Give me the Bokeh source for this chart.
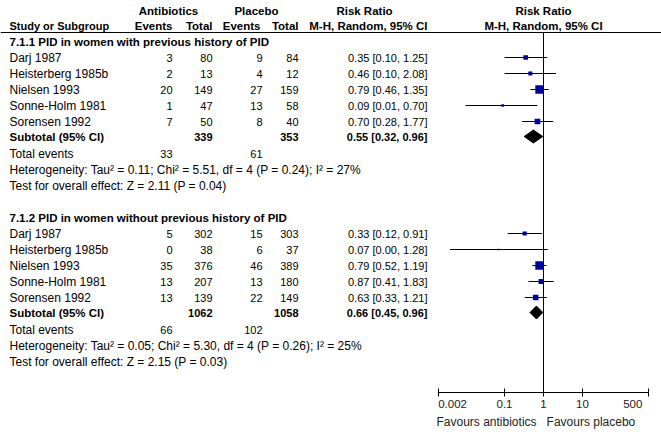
import math
from bokeh.plotting import figure
from bokeh.models import (Range1d, LogScale, LogAxis, FixedTicker,
                          CustomJSTickFormatter, Title)
from bokeh.core.properties import value
from bokeh.embed import file_html
from bokeh.resources import INLINE

# ------------------------------------------------------------------ data
group_titles = ["7.1.1 PID in women with previous history of PID",
                "7.1.2 PID in women without previous history of PID"]
studies = ["Darj 1987", "Heisterberg 1985b", "Nielsen 1993",
           "Sonne-Holm 1981", "Sorensen 1992"]

g1_abx_events = [3, 2, 20, 1, 7]
g1_abx_total = [80, 13, 149, 47, 50]
g1_plc_events = [9, 4, 27, 13, 8]
g1_plc_total = [84, 12, 159, 58, 40]
g1_rr = [0.35, 0.46, 0.79, 0.09, 0.70]
g1_lo = [0.10, 0.10, 0.46, 0.01, 0.28]
g1_hi = [1.25, 2.08, 1.35, 0.70, 1.77]
g1_weight = [15.0, 11.0, 47.5, 5.0, 21.5]

g2_abx_events = [5, 0, 35, 13, 13]
g2_abx_total = [302, 38, 376, 207, 139]
g2_plc_events = [15, 6, 46, 13, 22]
g2_plc_total = [303, 37, 389, 180, 149]
g2_rr = [0.33, 0.07, 0.79, 0.87, 0.63]
g2_lo = [0.12, 0.004, 0.52, 0.41, 0.33]
g2_hi = [0.91, 1.28, 1.19, 1.83, 1.21]
g2_weight = [12.0, 2.0, 48.0, 17.5, 20.5]

sub_abx_total = [339, 1062]
sub_plc_total = [353, 1058]
sub_rr = [0.55, 0.66]
sub_lo = [0.32, 0.45]
sub_hi = [0.96, 0.96]
tot_abx_events = [33, 66]
tot_plc_events = [61, 102]
het_tau2 = [0.11, 0.05]
het_chi2 = [5.51, 5.30]
het_df = [4, 4]
het_p = [0.24, 0.26]
het_i2 = [27, 25]
eff_z = [2.11, 2.15]
eff_p = [0.04, 0.03]

axis_ticks = [0.002, 0.1, 1, 10, 500]
favour_left = "Favours antibiotics"
favour_right = "Favours placebo"

# ------------------------------------------------------------------ layout
FONT = "Liberation Sans"
FS_TXT = "12px"     # regular labels
FS_BOLD = "11.5px"  # bold headings
FS_NUM = "11px"     # numeric columns
BLUE = "#0000a0"
W, H = 661, 432
X0, X1 = 0, 661
AXIS_Y = 392
X_ONE = 543          # page x of RR = 1
PX_DEC = 39.0        # pixels per decade

p = figure(width=W, height=H, x_range=Range1d(X0, X1),
           y_range=Range1d(AXIS_Y, 0),
           x_axis_location=None, y_axis_location=None,
           toolbar_location=None, output_backend="svg",
           min_border=0, min_border_bottom=H - AXIS_Y)
p.min_border_left = 0
p.min_border_right = 0
p.min_border_top = 0
p.outline_line_color = None
p.grid.visible = False
p.background_fill_color = "white"
p.border_fill_color = "white"

p.extra_x_ranges = {"rr": Range1d(10 ** ((X0 - X_ONE) / PX_DEC),
                                  10 ** ((X1 - X_ONE) / PX_DEC))}
p.extra_x_scales = {"rr": LogScale()}

# end tick labels sit inside the axis span (first starts at its tick,
# last ends at its tick), as in the original
tick_fmt = CustomJSTickFormatter(code="""
const s = tick.toString();
const pad = (n) => "\\u00a0".repeat(n);
if (index == 0) return pad(Math.round(s.length * 1.8)) + s;
if (index == ticks.length - 1) return s + pad(Math.round(s.length * 2));
return s;
""")

ax = LogAxis(x_range_name="rr", bounds=(axis_ticks[0], axis_ticks[-1]),
             ticker=FixedTicker(ticks=axis_ticks, minor_ticks=[]),
             formatter=tick_fmt,
             major_tick_in=4, major_tick_out=4,
             minor_tick_line_color=None,
             axis_line_color="black", major_tick_line_color="black",
             major_label_standoff=1,
             major_label_text_font=FONT, major_label_text_font_size="11.5px",
             major_label_text_color="#222222")
p.add_layout(ax, "below")

NBSP = "\u00a0"
p.add_layout(Title(text=favour_left + NBSP * 3 + favour_right,
                   align="left", offset=436, standoff=0,
                   text_font=FONT, text_font_size=FS_TXT,
                   text_font_style="normal", text_color="#222222"),
             "below")


def txt(xs, ys, texts, align="left", bold=False, rng=None, size=None):
    kw = {}
    if rng:
        kw["x_range_name"] = rng
    if size is None:
        size = FS_BOLD if bold else FS_TXT
    p.text(x=xs, y=ys, text=texts, text_align=align, text_baseline="middle",
           text_font=value(FONT), text_font_size=size,
           text_font_style="bold" if bold else "normal",
           text_color="black", **kw)


# column positions (page px)
C_NAME = 9
C_AEV = 172
C_ATOT = 212
C_PEV = 262
C_PTOT = 298
C_RR = 427
HEAD1, HEAD2, LINE_Y = 10, 25, 32

# header
txt([168, 256, 364], [HEAD1] * 3, ["Antibiotics", "Placebo", "Risk Ratio"],
    align="center", bold=True)
txt([1], [HEAD1], ["Risk Ratio"], align="center", bold=True, rng="rr")
txt([C_NAME], [HEAD2], ["Study or Subgroup"], bold=True, size="11px")
txt([C_AEV, C_ATOT, 260, C_PTOT, C_RR], [HEAD2] * 5,
    ["Events", "Total", "Events", "Total", "M-H, Random, 95% CI"],
    align="right", bold=True)
txt([1], [HEAD2], ["M-H, Random, 95% CI"], align="center", bold=True, rng="rr")
p.segment(x0=[X0], y0=[LINE_Y], x1=[X1], y1=[LINE_Y], line_color="black",
          line_width=1)
p.segment(x0=[1], y0=[LINE_Y], x1=[1], y1=[AXIS_Y], line_color="black",
          line_width=1, x_range_name="rr")

groups = [
    (g1_abx_events, g1_abx_total, g1_plc_events, g1_plc_total,
     g1_rr, g1_lo, g1_hi, g1_weight),
    (g2_abx_events, g2_abx_total, g2_plc_events, g2_plc_total,
     g2_rr, g2_lo, g2_hi, g2_weight),
]
starts = [41, 217]


def ci(r, l, h):
    return f"{r:.2f} [{l:.2f}, {h:.2f}]"


for gi, (aev, atot, pev, ptot, rr, lo, hi, wt) in enumerate(groups):
    s = starts[gi]
    n = len(studies)
    ys = [s + 16 + 16 * i for i in range(n)]
    txt([C_NAME], [s], [group_titles[gi]], bold=True)
    txt([C_NAME] * n, ys, studies)
    txt([C_AEV] * n, ys, [str(v) for v in aev], align="right", size=FS_NUM)
    txt([C_ATOT] * n, ys, [str(v) for v in atot], align="right", size=FS_NUM)
    txt([C_PEV] * n, ys, [str(v) for v in pev], align="right", size=FS_NUM)
    txt([C_PTOT] * n, ys, [str(v) for v in ptot], align="right", size=FS_NUM)
    txt([C_RR] * n, ys, [ci(r, l, h) for r, l, h in zip(rr, lo, hi)],
        align="right", size=FS_NUM)
    # forest rows
    p.segment(x0=lo, y0=ys, x1=hi, y1=ys, line_color="black", line_width=1,
              x_range_name="rr")
    p.scatter(x=rr, y=ys, size=[1.22 * math.sqrt(w) for w in wt],
              marker="square", fill_color=BLUE, line_color=None,
              x_range_name="rr")
    # subtotal
    ys_sub = s + 95
    txt([C_NAME], [ys_sub], ["Subtotal (95% CI)"], bold=True)
    txt([C_ATOT, C_PTOT], [ys_sub] * 2,
        [str(sub_abx_total[gi]), str(sub_plc_total[gi])], align="right",
        bold=True, size=FS_NUM)
    txt([C_RR], [ys_sub], [ci(sub_rr[gi], sub_lo[gi], sub_hi[gi])],
        align="right", bold=True, size=FS_NUM)
    p.patches(xs=[[sub_lo[gi], sub_rr[gi], sub_hi[gi], sub_rr[gi]]],
              ys=[[ys_sub, ys_sub - 6.5, ys_sub, ys_sub + 6.5]],
              fill_color="black", line_color="black", x_range_name="rr")
    # totals / stats
    ys_te = s + 112
    txt([C_NAME], [ys_te], ["Total events"])
    txt([C_AEV, C_PEV], [ys_te] * 2,
        [str(tot_abx_events[gi]), str(tot_plc_events[gi])], align="right",
        size=FS_NUM)
    het = (f"Heterogeneity: Tau\u00b2 = {het_tau2[gi]:.2f}; "
           f"Chi\u00b2 = {het_chi2[gi]:.2f}, df = {het_df[gi]} "
           f"(P = {het_p[gi]:.2f}); I\u00b2 = {het_i2[gi]}%")
    txt([C_NAME], [s + 128], [het])
    eff = f"Test for overall effect: Z = {eff_z[gi]:.2f} (P = {eff_p[gi]:.2f})"
    txt([C_NAME], [s + 144], [eff])

open("out.html", "w").write(file_html(p, INLINE))
